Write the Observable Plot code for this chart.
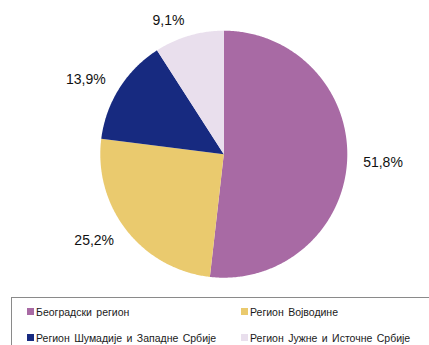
<!DOCTYPE html>
<html>
<head>
<meta charset="utf-8">
<script src="https://cdn.jsdelivr.net/npm/d3@7"></script>
<script src="https://cdn.jsdelivr.net/npm/@observablehq/plot@0.6"></script>
<style>
  html, body { margin: 0; padding: 0; background: #fff; overflow: hidden; width: 429px; height: 345px; }
  #chart { position: absolute; left: 0; top: 0; }
  #legend { position: absolute; left: 11px; top: 297px; width: 440px; height: 60px; border: 1px solid #8a8a8a; box-sizing: border-box; }
  .item { position: absolute; font-family: "Liberation Sans", Arial, sans-serif; font-size: 10.5px; color: #1a1a1a; white-space: nowrap; line-height: 12px; word-spacing: 1.5px; }
  .sw { position: absolute; width: 7px; height: 7px; }
</style>
</head>
<body>
<div id="chart"></div>
<div id="legend"></div>
<script>
const regions = ["Београдски регион", "Регион Војводине", "Регион Шумадије и Западне Србије", "Регион Јужне и Источне Србије"];
const shares = [51.8, 25.2, 13.9, 9.1];
const labels = ["51,8%", "25,2%", "13,9%", "9,1%"];
const colors = ["#a86aa4", "#eaca6e", "#172a80", "#e9dfed"];

const W = 429, H = 295;
const cx = 223.3, cy = 153.7, R = 123.5;

// slice angles, clockwise from top
const total = d3.sum(shares);
let acc = 0;
const slices = shares.map((v, i) => {
  const a0 = acc / total * 2 * Math.PI;
  acc += v;
  const a1 = acc / total * 2 * Math.PI;
  return {name: regions[i], label: labels[i], a0, a1, mid: (a0 + a1) / 2};
});

// polygon points for each slice
const pts = [];
for (const s of slices) {
  pts.push({name: s.name, x: 0, y: 0});
  const n = Math.max(2, Math.ceil((s.a1 - s.a0) / 0.01));
  for (let k = 0; k <= n; k++) {
    const a = s.a0 + (s.a1 - s.a0) * k / n;
    pts.push({name: s.name, x: Math.sin(a), y: Math.cos(a)});
  }
}

const k = 1.13;
const labelData = slices.map(s => ({
  label: s.label,
  x: Math.sin(s.mid) * k,
  y: Math.cos(s.mid) * k,
  anchor: Math.sin(s.mid) >= 0 ? "start" : "end"
}));

const chart = Plot.plot({
  width: W,
  height: H,
  marginLeft: cx - R,
  marginRight: W - (cx + R),
  marginTop: cy - R,
  marginBottom: H - (cy + R),
  x: {domain: [-1, 1], axis: null},
  y: {domain: [-1, 1], axis: null},
  color: {domain: regions, range: colors},
  style: {background: "transparent", overflow: "visible"},
  marks: [
    Plot.line(pts, {x: "x", y: "y", z: "name", fill: "name", stroke: "none", curve: "linear"}),
    Plot.text(labelData.filter(d => d.anchor === "start"), {x: "x", y: "y", text: "label", textAnchor: "start", fontSize: 14, fill: "#111", fontFamily: "Liberation Sans, Arial, sans-serif"}),
    Plot.text(labelData.filter(d => d.anchor === "end"), {x: "x", y: "y", text: "label", textAnchor: "end", fontSize: 14, fill: "#111", fontFamily: "Liberation Sans, Arial, sans-serif"})
  ]
});
document.getElementById("chart").appendChild(chart);

// legend
const legend = document.getElementById("legend");
const colX = [15, 229];
const rowY = [8, 34];
regions.forEach((r, i) => {
  const col = i % 2, row = Math.floor(i / 2);
  const sw = document.createElement("div");
  sw.className = "sw";
  sw.style.left = colX[col] + "px";
  sw.style.top = (rowY[row] + 2) + "px";
  sw.style.background = colors[i];
  legend.appendChild(sw);
  const t = document.createElement("div");
  t.className = "item";
  t.style.left = (colX[col] + 9) + "px";
  t.style.top = rowY[row] + "px";
  t.textContent = r;
  legend.appendChild(t);
});
</script>
</body>
</html>
